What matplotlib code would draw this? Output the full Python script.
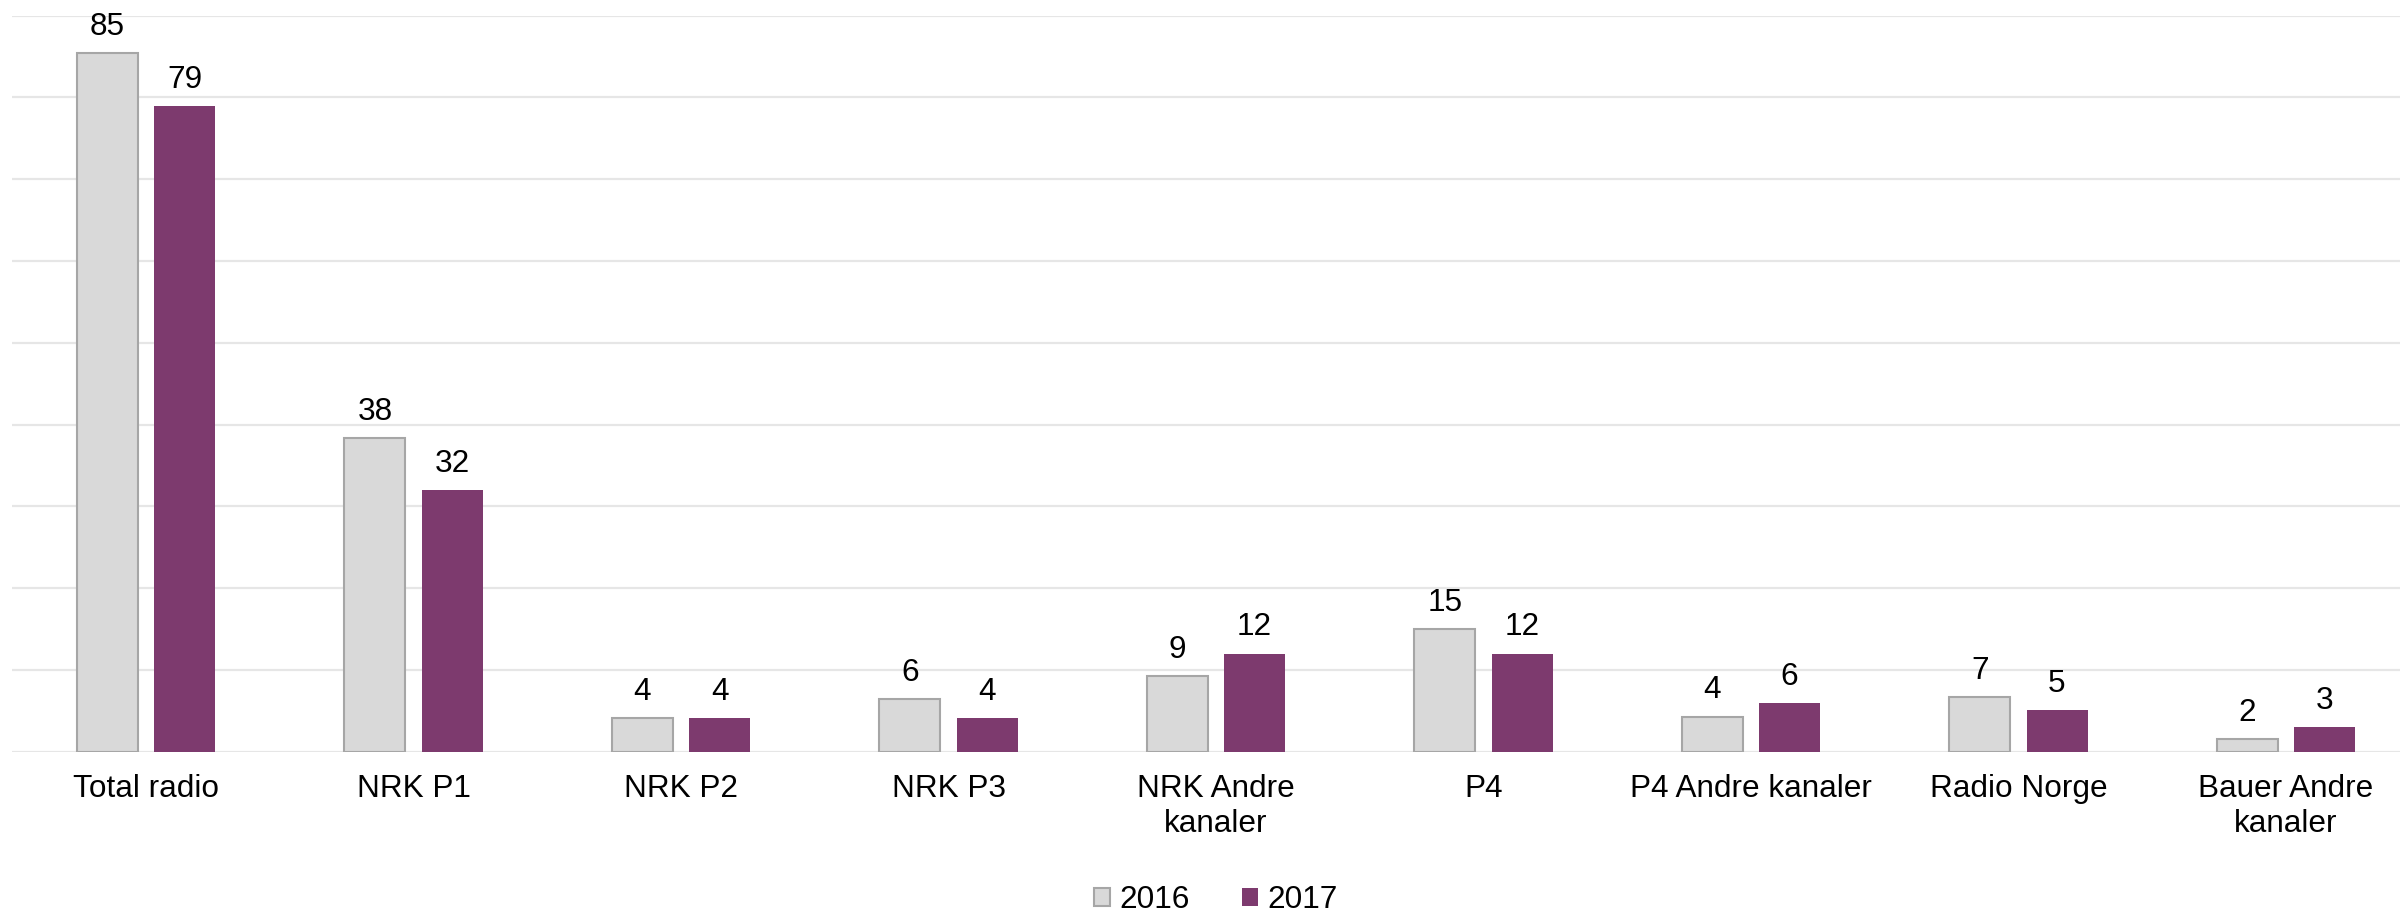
#%% imports
from matplotlib import pyplot as plt
import numpy as np

#%% data
categories = ["Total radio", "NRK P1", "NRK P2", "NRK P3", "NRK Andre\nkanaler",
              "P4", "P4 Andre kanaler", "Radio Norge", "Bauer Andre\nkanaler"]
values_2016 = [85.4, 38.4, 4.1, 6.4, 9.2, 15.0, 4.3, 6.7, 1.6]
values_2017 = [78.9, 32.0, 4.1, 4.1, 12.0, 12.0, 6.0, 5.1, 3.0]
series_names = ["2016", "2017"]

#%% style
plt.rcParams['font.family'] = ['Liberation Sans', 'DejaVu Sans']
fs = 22.7
c16 = "#d9d9d9"
c16_edge = "#a6a6a6"
c17 = "#7d3a6e"
grid_c = "#e6e6e6"

#%% figure
W, H = 2400, 915
fig = plt.figure(figsize=(W / 100, H / 100), dpi=100)
step = 267.5
left_px = 146 - step / 2
ax = fig.add_axes([left_px / W, (H - 751.7) / H, 9 * step / W, 736 / H])

x = np.arange(len(categories))
bw = 0.228
off = 0.144
b16 = ax.bar(x - off, values_2016, bw, color=c16, edgecolor=c16_edge, linewidth=1.5,
             label=series_names[0], zorder=3)
b17 = ax.bar(x + off, values_2017, bw, color=c17, edgecolor="none",
             label=series_names[1], zorder=3)

for bars in (b16, b17):
    ax.bar_label(bars, labels=[f"{round(v)}" for v in bars.datavalues],
                 padding=8, fontsize=fs, color="black")

ax.set_xlim(-0.5, len(categories) - 0.5)
ax.set_ylim(0, 90)
ax.set_yticks(np.arange(0, 91, 10))
ax.yaxis.grid(True, color=grid_c, linewidth=1.6, zorder=0)
ax.set_axisbelow(True)
ax.tick_params(axis="y", left=False, labelleft=False)
ax.set_xticks(x)
ax.set_xticklabels(categories, fontsize=fs)
ax.tick_params(axis="x", length=0, pad=16)
for s in ax.spines.values():
    s.set_visible(False)

# legend under the plot, centred on the axes
leg = fig.legend(handles=[b16, b17], labels=series_names, loc="lower center",
                 bbox_to_anchor=((left_px + 4.5 * step) / W, 0), ncol=2,
                 frameon=False, fontsize=fs, handlelength=0.5, handleheight=0.5,
                 handletextpad=0.3, columnspacing=1.65, borderpad=0, borderaxespad=0)

fig.savefig("out.png", dpi=100)
